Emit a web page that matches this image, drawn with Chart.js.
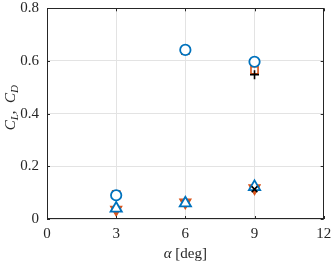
<!DOCTYPE html>
<html>
<head>
<meta charset="utf-8">
<script src="https://cdn.jsdelivr.net/npm/chart.js@4"></script>
<style>
  html, body { margin: 0; padding: 0; background: #fff; }
  #wrap { width: 332px; height: 264px; }
</style>
</head>
<body>
<div id="wrap"><canvas id="chart" width="332" height="264"></canvas></div>
<script>
// angle of attack
const alpha = [3, 6, 9];

// lift coefficient
const clCircle = [0.09, 0.642, 0.597];
const clSquare = [0.094, 0.639, 0.565];
const clPlusAlpha = [9];
const clPlus = [0.548];

// drag coefficient
const cdTriUp = [0.04, 0.06, 0.122];
const cdTriDown = [0.036, 0.063, 0.117];
const cdCrossAlpha = [9];
const cdCross = [0.113];

const xTicks = [0, 3, 6, 9, 12];
const yTicks = [0, 0.2, 0.4, 0.6, 0.8];

const blue = '#0072BD';
const orange = '#D95319';
const serif = '"Liberation Serif", "DejaVu Serif", serif';

const pts = (xs, ys) => xs.map((x, i) => ({ x: x, y: ys[i] }));

// MATLAB-like box with inward ticks, and the axis titles with subscripts
const boxPlugin = {
  id: 'box',
  afterDraw(chart) {
    const { ctx, chartArea: a, scales } = chart;
    ctx.save();
    ctx.strokeStyle = '#262626';
    ctx.lineWidth = 1;
    ctx.strokeRect(Math.round(a.left) + 0.5, Math.round(a.top) + 0.5,
      Math.round(a.right - a.left) - 1, Math.round(a.bottom - a.top) - 1);
    const len = 3;
    ctx.beginPath();
    xTicks.forEach(v => {
      const px = Math.round(scales.x.getPixelForValue(v)) + 0.5;
      ctx.moveTo(px, a.bottom); ctx.lineTo(px, a.bottom - len);
      ctx.moveTo(px, a.top); ctx.lineTo(px, a.top + len);
    });
    yTicks.forEach(v => {
      const py = Math.round(scales.y.getPixelForValue(v)) + 0.5;
      ctx.moveTo(a.left, py); ctx.lineTo(a.left + len, py);
      ctx.moveTo(a.right, py); ctx.lineTo(a.right - len, py);
    });
    ctx.stroke();

    ctx.fillStyle = '#262626';
    ctx.textBaseline = 'alphabetic';

    // x title: alpha [deg]
    const xParts = [
      { t: '\u03b1', f: 'italic 15px ' + serif, dy: 0 },
      { t: ' [deg]', f: '15px ' + serif, dy: 0 }
    ];
    drawParts(ctx, xParts, (a.left + a.right) / 2, 258);

    // y title: C_L, C_D
    ctx.save();
    ctx.translate(15, (a.top + a.bottom) / 2 - 6);
    ctx.rotate(-Math.PI / 2);
    const yParts = [
      { t: 'C', f: 'italic 15px ' + serif, dy: 0 },
      { t: 'L', f: 'italic 11px ' + serif, dy: 3 },
      { t: ',  ', f: '15px ' + serif, dy: 0 },
      { t: 'C', f: 'italic 15px ' + serif, dy: 0 },
      { t: 'D', f: 'italic 11px ' + serif, dy: 3 }
    ];
    drawParts(ctx, yParts, 0, 0);
    ctx.restore();
    ctx.restore();
  }
};

function drawParts(ctx, parts, cx, y) {
  let total = 0;
  parts.forEach(p => { ctx.font = p.f; total += ctx.measureText(p.t).width; });
  let x = cx - total / 2;
  ctx.textAlign = 'left';
  parts.forEach(p => {
    ctx.font = p.f;
    ctx.fillText(p.t, x, y + p.dy);
    x += ctx.measureText(p.t).width;
  });
}

new Chart(document.getElementById('chart'), {
  type: 'scatter',
  data: {
    datasets: [
      { data: pts(alpha, clSquare), pointStyle: 'rect', pointRadius: 5, borderColor: orange, backgroundColor: 'transparent', pointBorderWidth: 1.6, order: 3 },
      { data: pts(alpha, cdTriDown), pointStyle: 'triangle', rotation: 180, pointRadius: 6.5, borderColor: orange, backgroundColor: orange, pointBorderWidth: 1.2, order: 3 },
      { data: pts(alpha, clCircle), pointStyle: 'circle', pointRadius: 5.2, borderColor: blue, backgroundColor: '#fff', pointBorderWidth: 1.8, order: 2 },
      { data: pts(alpha, cdTriUp), pointStyle: 'triangle', pointRadius: 6.5, borderColor: blue, backgroundColor: '#fff', pointBorderWidth: 1.8, order: 2 },
      { data: pts(clPlusAlpha, clPlus), pointStyle: 'cross', pointRadius: 4.5, borderColor: '#000', pointBorderWidth: 1.6, order: 1 },
      { data: pts(cdCrossAlpha, cdCross), pointStyle: 'crossRot', pointRadius: 4, borderColor: '#000', pointBorderWidth: 1.6, order: 1 }
    ]
  },
  options: {
    responsive: false,
    animation: false,
    events: [],
    layout: { padding: { top: 6, right: 8, left: 0, bottom: 0 } },
    plugins: { legend: { display: false }, tooltip: { enabled: false } },
    scales: {
      x: {
        type: 'linear', min: 0, max: 12,
        afterBuildTicks(s) { s.ticks = xTicks.map(v => ({ value: v })); },
        afterFit(s) { s.height = 45; s.paddingLeft = 0; s.paddingRight = 0; },
        ticks: { color: '#262626', font: { family: serif, size: 15 }, padding: 6 },
        grid: { color: '#e3e3e3', drawTicks: false, tickLength: 0 },
        border: { display: false }
      },
      y: {
        type: 'linear', min: 0, max: 0.8,
        afterBuildTicks(s) { s.ticks = yTicks.map(v => ({ value: v })); },
        afterFit(s) { s.width = 47; s.paddingTop = 0; s.paddingBottom = 0; },
        ticks: { color: '#262626', font: { family: serif, size: 15 }, padding: 8, callback: v => String(v) },
        grid: { color: '#e3e3e3', drawTicks: false, tickLength: 0 },
        border: { display: false }
      }
    }
  },
  plugins: [boxPlugin]
});
</script>
</body>
</html>
